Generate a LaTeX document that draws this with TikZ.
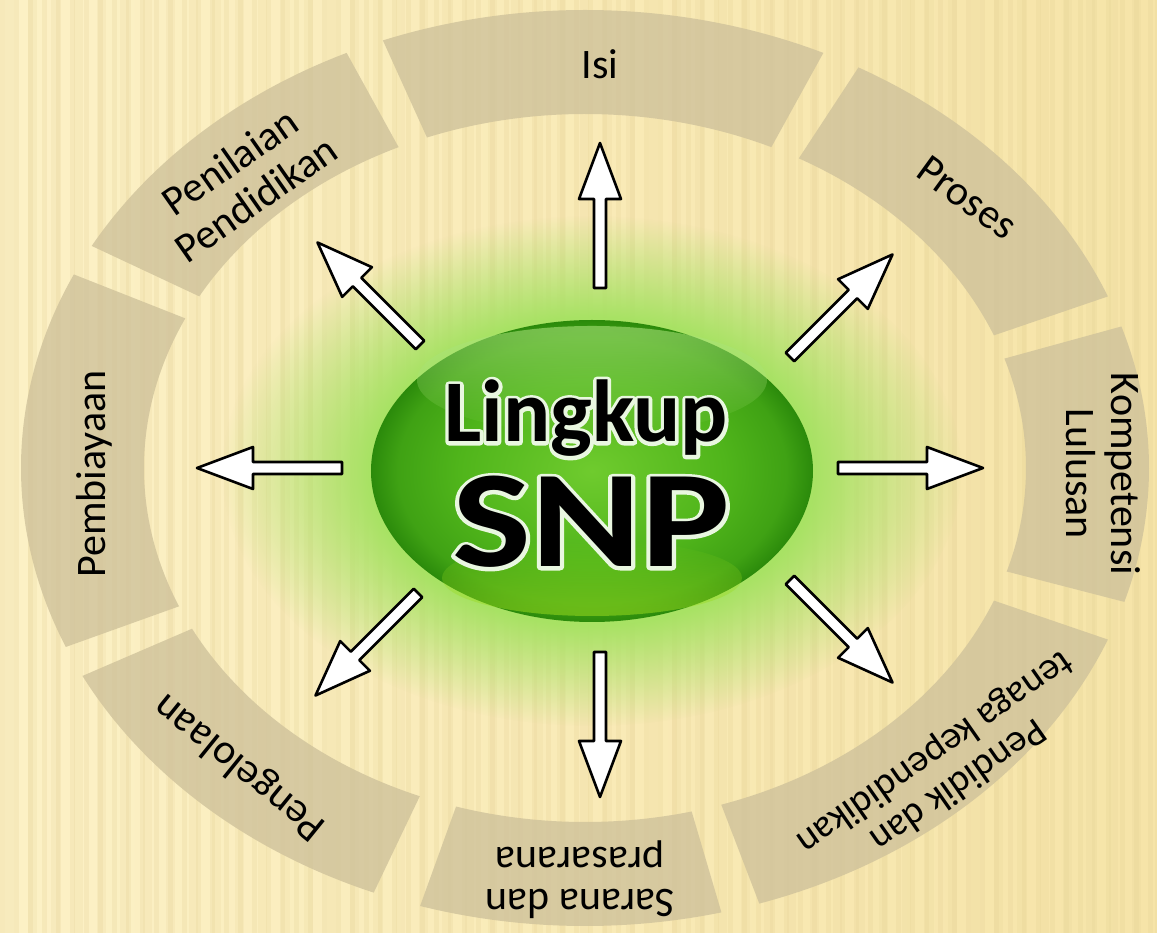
\documentclass[tikz,border=0pt]{standalone}
\usepackage{fontspec}
\setmainfont{Carlito}
\usepackage{graphicx}
\usetikzlibrary{fadings}
\definecolor{bgA}{HTML}{FCF1C6}
\definecolor{bgB}{HTML}{F6E4A8}
\definecolor{stripeC}{HTML}{E3CF92}
\definecolor{segC}{HTML}{CFC29B}
\definecolor{glowC}{HTML}{A8E264}
\definecolor{gLight}{HTML}{6FCB2E}
\definecolor{gMid}{HTML}{50B51B}
\definecolor{gDark}{HTML}{2B8A0B}
\definecolor{hiC}{HTML}{A9E27A}
\pgfdeclareradialshading{greenball}{\pgfpoint{0bp}{0bp}}{color(0bp)=(gLight); color(15bp)=(gMid); color(22bp)=(gDark!45!gMid); color(25bp)=(gDark); color(50bp)=(gDark)}
\pgfdeclareradialshading{glowshade}{\pgfpoint{0bp}{0bp}}{color(0bp)=(white); color(15bp)=(white); color(25bp)=(black); color(50bp)=(black)}
\pgfdeclarefading{glowfade}{\pgfuseshading{glowshade}}
\tikzfading[name=topfade, top color=transparent!0, bottom color=transparent!100]
\tikzfading[name=botfade, top color=transparent!100, bottom color=transparent!0]
\makeatletter
\newcommand\strokeon[1]{\pgfsys@invoke{1 j #1 w 2 Tr}}
\newcommand\strokeoff{\pgfsys@invoke{0 Tr}}
\makeatother
\tikzset{
  lbl/.style={font=\fontsize{42}{45}\selectfont, align=center, text=black, inner sep=0pt},
  seg/.style={fill=segC, opacity=.8},
  arrowbody/.style={draw=black, line width=2.6pt, line join=round, fill=white},
  bigtxt/.style={inner sep=0pt, anchor=base},
}
\newcommand\blkarrow[2]{%
  \begin{scope}[shift={(#1)}, rotate=#2]
    \draw[arrowbody] (0,-6) -- (89,-6) -- (89,-21) -- (145,0) -- (89,21) -- (89,6) -- (0,6) -- cycle;
  \end{scope}}
\begin{document}
\begin{tikzpicture}[x=1pt,y=1pt]
\useasboundingbox (-585,-465) rectangle (572,468);
% background
\shade[left color=bgA, right color=bgB] (-585,-465) rectangle (572,468);
\foreach \x in {-585,-571,...,572} \fill[stripeC, opacity=.22] (\x,-465) rectangle ++(5,933);
\foreach \x in {-580,-557,...,572} \fill[stripeC, opacity=.16] (\x,-465) rectangle ++(9,933);
% ring segments
\def\rxo{564}\def\ryo{458}\def\rxi{441}\def\ryi{354}
\foreach \a/\b in {65/111,115/151,155/203,207/248,253/284,288/338,343/378,382/421}
  \fill[seg] ({\rxo*cos(\a)},{\ryo*sin(\a)}) arc[start angle=\a, end angle=\b, x radius=\rxo pt, y radius=\ryo pt]
    -- ({\rxi*cos(\b)},{\ryi*sin(\b)}) arc[start angle=\b, end angle=\a, x radius=\rxi pt, y radius=\ryi pt] -- cycle;
% glow
\fill[glowC, path fading=glowfade] (7,-3) ellipse [x radius=370pt, y radius=255pt];
% green ellipse
\shade[shading=greenball] (7,-3) ellipse [x radius=221pt, y radius=151pt];
\fill[hiC, opacity=.6, path fading=topfade] (7,88) ellipse [x radius=175pt, y radius=54pt];
\fill[gLight!70!yellow, opacity=.55, path fading=botfade] (7,-110) ellipse [x radius=150pt, y radius=38pt];
% arrows
\coordinate (tN) at (15,180);
\coordinate (tS) at (15,-184);
\coordinate (tW) at (-243,0);
\coordinate (tE) at (253,0);
\coordinate (tNE) at (205,111);
\coordinate (tNW) at (-165,123);
\coordinate (tSW) at (-167,-125);
\coordinate (tSE) at (205,-112);
\blkarrow{tN}{90}
\blkarrow{tS}{-90}
\blkarrow{tW}{180}
\blkarrow{tE}{0}
\blkarrow{tNE}{45}
\blkarrow{tNW}{135}
\blkarrow{tSW}{225}
\blkarrow{tSE}{-45}
% center text with white halo
\node[bigtxt, text=white!85!gLight, font=\fontsize{88}{90}\selectfont\bfseries] (lkh) at (1,26) {\strokeon{7}Lingkup\strokeoff};
\node[bigtxt, text=black, font=\fontsize{88}{90}\selectfont\bfseries] (lk) at (1,26) {Lingkup};
\node[bigtxt, text=white!85!gLight, font=\fontsize{138}{140}\selectfont\bfseries] (snh) at (6,-99) {\scalebox{1.21}[1]{\strokeon{7}SNP\strokeoff}};
\node[bigtxt, text=black, font=\fontsize{138}{140}\selectfont\bfseries] (snp) at (6,-99) {\scalebox{1.21}[1]{SNP}};
% labels
\node[lbl] (isi) at (15,404) {Isi};
\node[lbl, rotate=35] (pen) at (-342,288) {Penilaian\\Pendidikan};
\node[lbl, rotate=-36] (pro) at (382,270) {Proses};
\node[lbl, rotate=-90] (kom) at (518,-6) {Kompetensi\\Lulusan};
\node[lbl, rotate=215, font=\fontsize{39}{40}\selectfont] (ptk) at (361,-300) {Pendidik dan\\tenaga kependidikan};
\node[lbl, rotate=180, font=\fontsize{42}{42}\selectfont] (sar) at (-5,-412) {Sarana dan\\prasarana};
\node[lbl, rotate=141] (pgl) at (-345,-299) {Pengelolaan};
\node[lbl, rotate=90] (pbi) at (-491,-6) {Pembiayaan};
\end{tikzpicture}
\end{document}
